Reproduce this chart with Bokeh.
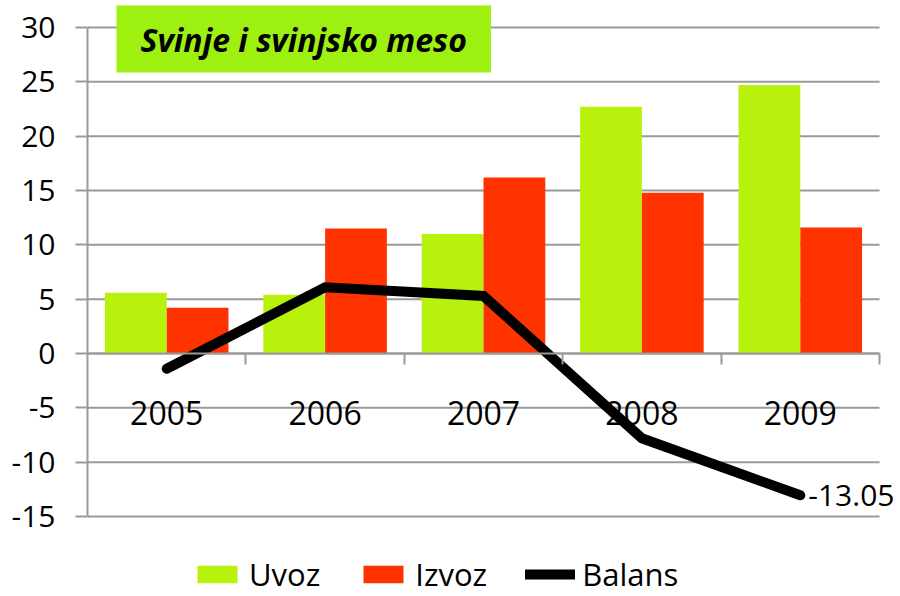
import numpy as np
from bokeh.plotting import figure
from bokeh.models import Range1d, FixedTicker, LinearAxis, Legend, LegendItem, Label, ColumnDataSource
from bokeh.core.properties import value
from bokeh.embed import file_html
from bokeh.resources import INLINE

title = "Svinje i svinjsko meso"
years = ["2005", "2006", "2007", "2008", "2009"]
uvoz = [5.6, 5.4, 11.0, 22.7, 24.7]
izvoz = [4.2, 11.5, 16.2, 14.8, 11.6]
balans = [-1.4, 6.1, 5.3, -7.8, -13.05]
y_ticks = [-15, -10, -5, 0, 5, 10, 15, 20, 25, 30]

FONT = "Open Sans"
GRID = "#9a9a9a"
C_UVOZ = "#B8F20C"
C_IZVOZ = "#FF3300"
C_TITLE = "#9DF010"

# layout (pixels): canvas 900x596, plotting area 87..879 x 27..516
W, H = 900, 596
PL, PR, PT, PB = 87, 879, 27, 516
n = len(years)
ymin, ymax = y_ticks[0], y_ticks[-1]
xu_per_px = n / (PR - PL)
yu_per_px = (ymax - ymin) / (PB - PT)
x_end = (W - PL) * xu_per_px
y_top = ymax + PT * yu_per_px
y_bot = ymin - (H - PB) * yu_per_px

idx = np.arange(n)
centers = idx + 0.5
bw = 0.39

src = ColumnDataSource(dict(year=years, xc=centers, xu=centers - bw / 2, xi=centers + bw / 2,
                            uvoz=uvoz, izvoz=izvoz, balans=balans,
                            ly=[-5.5] * n))
gsrc = ColumnDataSource(dict(y=y_ticks, x0=[0] * len(y_ticks), x1=[n] * len(y_ticks)))

p = figure(width=W, height=H, x_range=Range1d(0, x_end), y_range=Range1d(y_bot, y_top),
           output_backend="svg", toolbar_location=None,
           min_border_left=PL, min_border_right=0, min_border_top=0, min_border_bottom=0)
p.outline_line_color = None
p.background_fill_color = "white"
p.border_fill_color = "white"
p.xaxis.visible = False
p.xgrid.visible = False
p.ygrid.visible = False

ya = p.yaxis[0]
ya.ticker = FixedTicker(ticks=y_ticks)
ya.bounds = (ymin, ymax)
ya.major_label_overrides = {t: str(t) for t in y_ticks}
ya.axis_line_color = GRID
ya.axis_line_width = 2
ya.major_tick_line_color = GRID
ya.major_tick_line_width = 2
ya.major_tick_out = 12
ya.major_tick_in = 0
ya.minor_tick_line_color = None
ya.major_label_standoff = 20
ya.major_label_text_font = FONT
ya.major_label_text_font_size = "30px"
ya.major_label_text_color = "black"

# horizontal grid lines across the category area
p.segment(x0="x0", x1="x1", y0="y", y1="y", source=gsrc, line_color=GRID, line_width=2)

xa = LinearAxis(fixed_location=0, ticker=FixedTicker(ticks=list(idx + 1)), bounds=(0, n),
                major_tick_out=11, major_tick_in=0, major_label_text_color=None,
                axis_line_color=GRID, axis_line_width=2, major_tick_line_color=GRID,
                major_tick_line_width=2, minor_tick_line_color=None)
p.add_layout(xa, "below")

r_u = p.vbar(x="xu", top="uvoz", bottom=0, width=bw, source=src, fill_color=C_UVOZ, line_color=None)
r_i = p.vbar(x="xi", top="izvoz", bottom=0, width=bw, source=src, fill_color=C_IZVOZ, line_color=None)

p.text(x="xc", y="ly", text="year", source=src, text_align="center", text_baseline="middle",
       text_font=value(FONT), text_font_size="32px", text_color="black")

r_b = p.line(x="xc", y="balans", source=src, line_color="black", line_width=10,
             line_cap="round", line_join="miter")

p.add_layout(Label(x=centers[-1], y=balans[-1], text=f"{balans[-1]:.2f}", x_offset=8,
                   text_baseline="middle", text_align="left", text_font=FONT,
                   text_font_size="30px", text_color="black"))

p.add_layout(Label(x=(116 - PL) * xu_per_px, y=28.94, text=title, text_baseline="middle",
                   text_align="left", text_font=FONT, text_font_size="32px",
                   text_font_style="bold italic", text_color="black",
                   background_fill_color=C_TITLE, padding=(24, 12)))

legend = Legend(items=[LegendItem(label="Uvoz", renderers=[r_u]),
                       LegendItem(label="Izvoz", renderers=[r_i]),
                       LegendItem(label="Balans", renderers=[r_b])],
                orientation="horizontal", location=(192 - PL, 1),
                glyph_width=50, glyph_height=22, label_standoff=7, spacing=38,
                label_text_font=FONT, label_text_font_size="31px", label_text_color="black",
                border_line_color=None, background_fill_alpha=0, padding=0, margin=0)
p.add_layout(legend, "center")

open("out.html", "w").write(file_html(p, INLINE))
